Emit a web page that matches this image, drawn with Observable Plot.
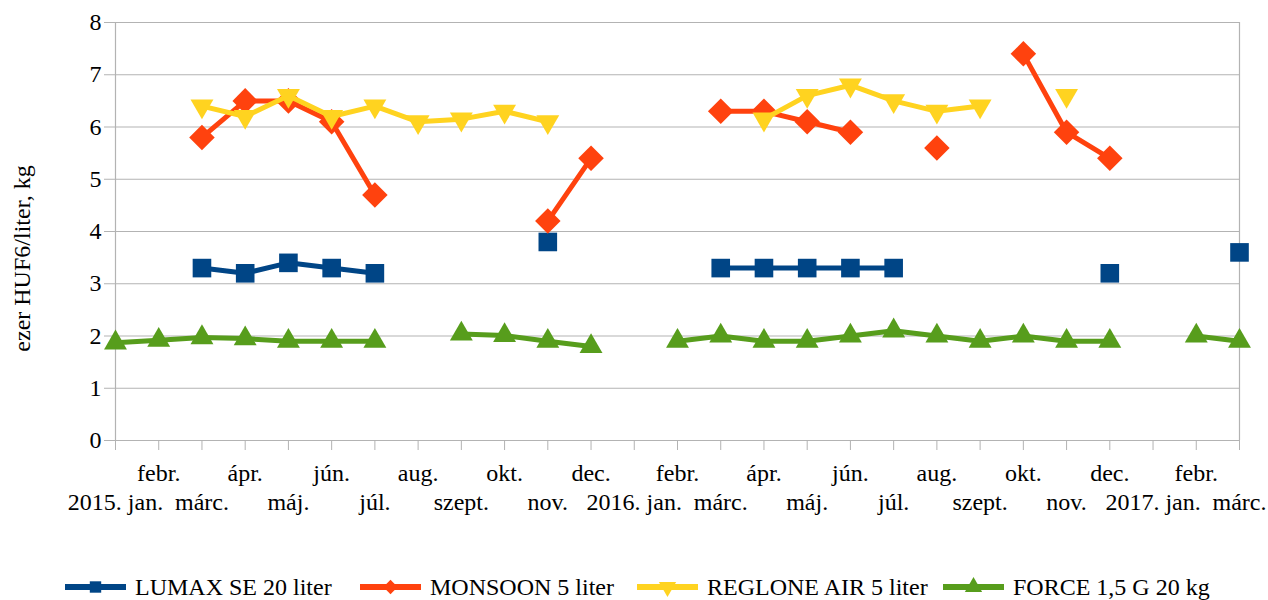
<!DOCTYPE html>
<html>
<head>
<meta charset="utf-8">
<script src="https://cdn.jsdelivr.net/npm/d3@7"></script>
<script src="https://cdn.jsdelivr.net/npm/@observablehq/plot@0.6"></script>
<style>
  body { margin: 0; background: #fff; font-family: "Liberation Serif", "Times New Roman", Tinos, "DejaVu Serif", serif; }
  #wrap { position: relative; width: 1268px; height: 600px; }
  #legend { position: absolute; left: 0; top: 572px; width: 1268px; height: 30px; }
  .item { position: absolute; top: 0; height: 30px; display: flex; align-items: center; font-size: 24px; color: #000; white-space: nowrap; }
  .item svg { margin-right: 9px; }
  svg text { font-family: "Liberation Serif", "Times New Roman", Tinos, "DejaVu Serif", serif; }
</style>
</head>
<body>
<div id="wrap">
  <div id="chart"></div>
  <div id="legend"></div>
</div>
<script>
const months = ["2015. jan.","febr.","márc.","ápr.","máj.","jún.","júl.","aug.","szept.","okt.","nov.","dec.",
                "2016. jan.","febr.","márc.","ápr.","máj.","jún.","júl.","aug.","szept.","okt.","nov.","dec.",
                "2017. jan.","febr.","márc."];
const seriesNames = ["LUMAX SE 20 liter","MONSOON 5 liter","REGLONE AIR 5 liter","FORCE 1,5 G 20 kg"];
const lumax   = [null,null,3.3,3.2,3.4,3.3,3.2,null,null,null,3.8,null,null,null,3.3,3.3,3.3,3.3,3.3,null,null,null,null,3.2,null,null,3.6];
const monsoon = [null,null,5.8,6.5,6.5,6.1,4.7,null,null,null,4.2,5.4,null,null,6.3,6.3,6.1,5.9,null,5.6,null,7.4,5.9,5.4,null,null,null];
const reglone = [null,null,6.4,6.2,6.6,6.2,6.4,6.1,6.15,6.3,6.1,null,null,null,null,6.15,6.6,6.8,6.5,6.3,6.4,null,6.6,null,null,null,null];
const force   = [1.87,1.92,1.97,1.95,1.9,1.9,1.9,null,2.04,2.01,1.9,1.8,null,1.9,2.0,1.9,1.9,2.0,2.1,2.0,1.9,2.0,1.9,1.9,null,2.0,1.9];
const yTicks = [0,1,2,3,4,5,6,7,8];
const yTitle = "ezer HUF6/liter, kg";

const colors = ["#004586","#ff420e","#ffd320","#579d1c"];
const symbols = ["square","diamond2","triangle","triangle"];
const rotations = [0,0,180,0];
const radii = [10.5,11.5,8.5,8.5];
const allValues = [lumax, monsoon, reglone, force];

const idx = months.map((m,i)=>i);
const lowerTicks = idx.filter(i => i % 2 === 0);
const upperTicks = idx.filter(i => i % 2 === 1);
const FONT = '"Liberation Serif", "Times New Roman", Tinos, "DejaVu Serif", serif';

const marks = [
  Plot.gridY(yTicks, {stroke: "#b3b3b3", strokeOpacity: 1, strokeWidth: 1.2}),
  Plot.ruleX([0, 26], {stroke: "#b3b3b3", strokeWidth: 1.2}),
  Plot.ruleY([0], {stroke: "#b3b3b3", strokeWidth: 1.2}),
  Plot.axisX({ticks: idx, tickSize: 10, tickFormat: null, stroke: "#b3b3b3", strokeOpacity: 1, text: null, label: null}),
  Plot.axisX({ticks: upperTicks, tickSize: 0, tickPadding: 23, tickFormat: i => months[i], fontSize: 24, fill: "#000", label: null}),
  Plot.axisX({ticks: lowerTicks, tickSize: 0, tickPadding: 52, tickFormat: i => months[i], fontSize: 24, fill: "#000", label: null}),
  Plot.axisY({ticks: yTicks, tickSize: 11, tickPadding: 3, fontSize: 24, fill: "#000", stroke: "#b3b3b3", strokeOpacity: 1, label: null}),
  Plot.text([yTitle], {frameAnchor: "left", textAnchor: "middle", rotate: -90, dx: -93, dy: 27, fontSize: 24, fill: "#000"})
];

allValues.forEach((vals, s) => {
  const data = vals.map((v, i) => ({x: i, y: v}));
  marks.push(Plot.line(data, {x: "x", y: "y", stroke: colors[s], strokeWidth: 5}));
  marks.push(Plot.dot(data.filter(d => d.y != null), {x: "x", y: "y", symbol: symbols[s], r: radii[s], fill: colors[s], stroke: "none", rotate: rotations[s]}));
});

const chart = Plot.plot({
  width: 1268,
  height: 545,
  marginLeft: 115,
  marginRight: 29,
  marginTop: 22,
  marginBottom: 105,
  style: {fontFamily: FONT, fontSize: "24px", background: "#fff", color: "#000"},
  x: {type: "linear", domain: [0, 26], axis: null},
  y: {domain: [0, 8], axis: null},
  marks
});
document.getElementById("chart").appendChild(chart);

// legend
const legendX = [65, 360, 637, 943];
const legend = document.getElementById("legend");
seriesNames.forEach((name, s) => {
  const item = document.createElement("div");
  item.className = "item";
  item.style.left = legendX[s] + "px";
  const sw = d3.create("svg").attr("width", 61).attr("height", 30);
  sw.append("line").attr("x1", 0).attr("x2", 61).attr("y1", 15).attr("y2", 15)
    .attr("stroke", colors[s]).attr("stroke-width", 6);
  const symMap = {square: d3.symbolSquare, diamond2: d3.symbolDiamond2, triangle: d3.symbolTriangle};
  sw.append("path").attr("d", d3.symbol(symMap[symbols[s]], 130)())
    .attr("transform", `translate(30.5,15) rotate(${rotations[s]})`).attr("fill", colors[s]);
  item.appendChild(sw.node());
  const t = document.createElement("span");
  t.textContent = name;
  item.appendChild(t);
  legend.appendChild(item);
});
</script>
</body>
</html>
